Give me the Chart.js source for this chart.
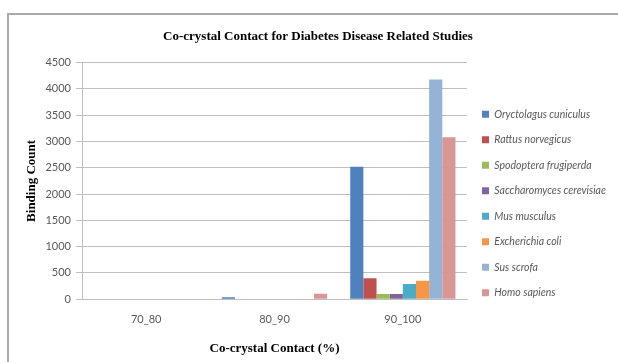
<!DOCTYPE html>
<html>
<head>
<meta charset="utf-8">
<script src="https://cdn.jsdelivr.net/npm/chart.js@4"></script>
<style>
  html, body { margin: 0; padding: 0; background: #ffffff; overflow: hidden; }
  canvas { display: block; }
</style>
</head>
<body>
<canvas id="c" width="618" height="362"></canvas>
<script>
const categories = ["70_80", "80_90", "90_100"];
const seriesNames = ["Oryctolagus cuniculus", "Rattus norvegicus", "Spodoptera frugiperda",
  "Saccharomyces cerevisiae", "Mus musculus", "Excherichia coli", "Sus scrofa", "Homo sapiens"];
const oryctolagus = [0, 35, 2520];
const rattus = [0, 0, 400];
const spodoptera = [0, 0, 100];
const saccharomyces = [0, 0, 100];
const mus = [0, 0, 290];
const excherichia = [0, 0, 350];
const sus = [0, 0, 4180];
const homo = [0, 105, 3080];
const yTicks = [0, 500, 1000, 1500, 2000, 2500, 3000, 3500, 4000, 4500];

const seriesValues = [oryctolagus, rattus, spodoptera, saccharomyces, mus, excherichia, sus, homo];
const colors = ["#4F81BD", "#C0504D", "#9BBB59", "#8064A2", "#4BACC6", "#F79646", "#95B3D7", "#D99694"];

const datasets = seriesNames.map((name, i) => ({
  label: name,
  data: seriesValues[i],
  backgroundColor: colors[i],
  borderWidth: 0,
  barPercentage: 1.0,
  categoryPercentage: 0.82
}));

const framePlugin = {
  id: 'frame',
  beforeDraw(chart) {
    const ctx = chart.ctx;
    ctx.save();
    ctx.fillStyle = '#ffffff';
    ctx.fillRect(0, 0, chart.width, chart.height);
    ctx.strokeStyle = '#A9A9A9';
    ctx.lineWidth = 2;
    ctx.beginPath();
    ctx.moveTo(8, chart.height);
    ctx.lineTo(8, 14);
    ctx.lineTo(chart.width, 14);
    ctx.stroke();
    ctx.restore();
  }
};

new Chart(document.getElementById('c'), {
  type: 'bar',
  data: { labels: categories, datasets },
  plugins: [framePlugin],
  options: {
    responsive: false,
    animation: false,
    devicePixelRatio: 1,
    layout: { padding: { left: 20, right: 2, top: 27, bottom: 4 } },
    plugins: {
      title: {
        display: true,
        text: 'Co-crystal Contact for Diabetes Disease Related Studies',
        font: { family: 'Liberation Serif', size: 13, weight: 'bold' },
        color: '#000',
        padding: { top: 2, bottom: 18 }
      },
      legend: {
        position: 'right',
        align: 'start',
        title: { display: true, text: ' ', font: { size: 10 }, padding: { top: 55, bottom: 0 } },
        labels: {
          boxWidth: 7,
          boxHeight: 7,
          padding: 15,
          color: '#595959',
          font: { family: 'Lato', size: 10.5, style: 'italic' }
        }
      },
      tooltip: { enabled: false }
    },
    scales: {
      x: {
        grid: { display: false, drawTicks: false },
        border: { display: true, color: '#BEBEBE', width: 1 },
        ticks: { color: '#595959', font: { family: 'Lato', size: 11 }, padding: 14 },
        title: {
          display: true,
          text: 'Co-crystal Contact (%)',
          font: { family: 'Liberation Serif', size: 13, weight: 'bold' },
          color: '#000',
          padding: { top: 0, bottom: 2 }
        }
      },
      y: {
        min: 0,
        max: 4500,
        afterBuildTicks: (scale) => { scale.ticks = yTicks.map(v => ({ value: v })); },
        afterFit: (scale) => { scale.width = 62; },
        grid: { color: '#BEBEBE', tickLength: 6, lineWidth: 1 },
        border: { display: true, color: '#BEBEBE', width: 1 },
        ticks: { color: '#595959', font: { family: 'Lato', size: 11 }, padding: 5,
                 callback: (v) => String(v) },
        title: {
          display: true,
          text: 'Binding Count',
          font: { family: 'Liberation Serif', size: 13, weight: 'bold' },
          color: '#000',
          padding: { top: 4, bottom: 4 }
        }
      }
    }
  }
});
</script>
</body>
</html>
